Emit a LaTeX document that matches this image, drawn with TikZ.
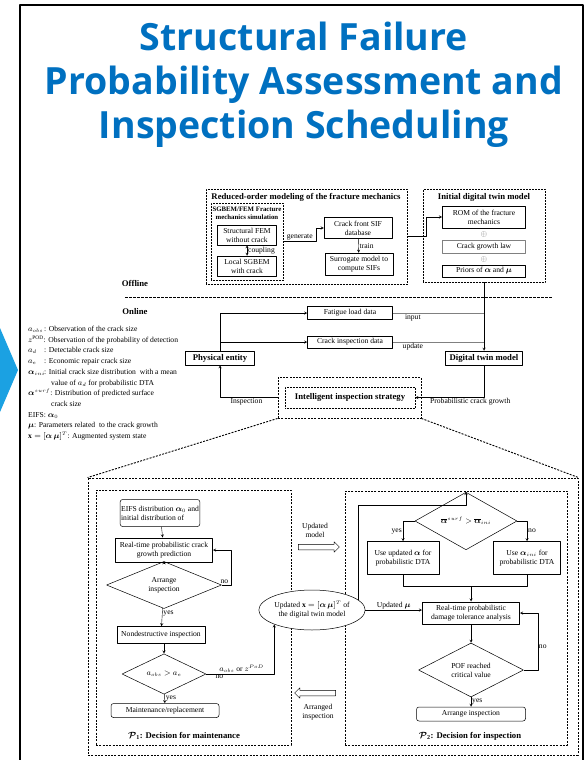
\documentclass[tikz,border=0pt]{standalone}
\usepackage{fontspec}
\usepackage{amsmath}
\setmainfont{Liberation Serif}
\newfontfamily\titlefont{Open Sans}
\usetikzlibrary{shapes.geometric,shapes.arrows,calc}
\definecolor{titleblue}{HTML}{0070C0}
\definecolor{chevblue}{HTML}{1BA1E2}
\newcommand{\sz}{\fontsize{7.6}{9.2}\selectfont}
\newcommand{\hd}{\fontsize{8.7}{10}\selectfont\bfseries}
\newcommand{\legfont}{\fontsize{7.6}{10.7}\selectfont}

\begin{document}
\begin{tikzpicture}[x=1pt,y=-1pt, line join=round, >=stealth, font=\sz,
    wh/.style 2 args={minimum width=#1pt,minimum height=#2pt},
    box/.style={draw, line width=0.5pt, align=center, inner sep=1pt},
    thickbox/.style={box, line width=1pt},
    rbox/.style={box, rounded corners=2.5pt},
    dec/.style={draw, diamond, line width=0.5pt, align=center, inner sep=0pt},
    dotbox/.style={draw, densely dotted, line width=0.5pt, inner sep=0pt},
    bigdash/.style={draw, dash pattern=on 2pt off 1.3pt, line width=0.9pt, inner sep=0pt},
    lbl/.style={inner sep=1pt},
    hollow/.style={draw, single arrow, single arrow head extend=2.5pt, inner sep=2.5pt, minimum height=41pt, line width=0.5pt}]
\useasboundingbox (0,0) rectangle (587,760);
\fill[chevblue] (0,328) -- (18,370) -- (0,412) -- cycle;
\draw[line width=1.6pt] (20,5) rectangle (583,800);
\node[font=\titlefont\bfseries\fontsize{37.5}{44}\selectfont, text=titleblue, align=center] (title) at (304,85)
  {Structural Failure\\Probability Assessment and\\Inspection Scheduling};

% offline part
\node[dotbox, wh={201}{95}] (reduced) at (306.5,236.5) {};
\node[font=\hd] (redtitle) at (306,197) {Reduced-order modeling of the fracture mechanics};
\node[dotbox, wh={72}{77}] (sgbem) at (247,241.5) {};
\node[font=\fontsize{6.8}{7.9}\selectfont\bfseries, align=center] (sgtitle) at (247,213.5) {SGBEM/FEM Fracture\\mechanics simulation};
\node[box, wh={59}{20}] (sfem) at (247,235) {Structural FEM\\without crack};
\node[box, wh={59}{20}] (lsg) at (247,266) {Local SGBEM\\with crack};
\node[box, wh={68}{21}] (sif) at (358,228) {Crack front SIF\\database};
\node[box, wh={68}{22}] (surr) at (359,264) {Surrogate model to\\compute SIFs};
\draw[<->] (sfem) -- (lsg) node[midway, right, lbl] {coupling};
\draw[->] (sgbem.east) -- ++(33,0) node[midway, above, lbl] {generate} |- (sif.west);
\draw[->] (sif) -- (surr) node[midway, right, lbl] {train};

\node[dotbox, wh={122}{93}] (init) at (484,235.5) {};
\node[font=\hd] (inittitle) at (484,197) {Initial digital twin model};
\node[thickbox, wh={83}{22}] (rom) at (484,217) {ROM of the fracture\\mechanics};
\node[text=gray, inner sep=0pt] (plusa) at (484,234) {$\oplus$};
\node[box, draw=gray, wh={83}{13}] (cgl) at (484,247) {Crack growth law};
\node[text=gray, inner sep=0pt] (plusb) at (484,259) {$\oplus$};
\node[thickbox, wh={83}{12}] (prior) at (484,271) {Priors of $\boldsymbol{\alpha}$ and $\boldsymbol{\mu}$};
\draw[->] (reduced.east) -- ++(19,0) |- (rom.west);

\node[font=\hd] (offline) at (135,283) {Offline};
\node[font=\hd] (online) at (135,312) {Online};
\draw[dash pattern=on 2.5pt off 1.5pt, line width=0.8pt] (125,297) -- (553,297); % offline / online

% online part
\node[box, font=\hd, wh={69}{14}] (phys) at (220,358) {Physical entity};
\node[box, font=\hd, wh={77}{14}] (dtm) at (484,358) {Digital twin model};
\node[box, wh={85}{13}] (fat) at (350,313) {Fatigue load data};
\node[box, wh={85}{12}] (crk) at (350,342) {Crack inspection data};
\draw[->] (init.south) -- (dtm.north);
\draw[->] (phys.north) |- (fat.west);
\draw[->] (phys.north) |- (crk.west);
\draw[gray] (fat.east) -- (fat.east -| dtm.north) node[pos=0.22, below, lbl, text=black] {input};
\draw[gray] (crk.east) -- (crk.east -| dtm.north) node[pos=0.22, below, lbl, text=black] {update};

\node[bigdash, wh={143}{41}] (iis) at (349.5,397.5) {};
\node[dotbox, wh={130}{21}, font=\hd] (iisin) at (350,397.5) {Intelligent inspection strategy};
\draw[->] (dtm.south) |- (iisin.east) node[pos=0.6, below, lbl] {Probabilistic crack growth};
\draw[->] (iis.west) -| (phys.south) node[pos=0.27, below, lbl] {Inspection};

\node[align=left, anchor=north west, font=\legfont, inner sep=0pt] (legend) at (28,326) {%
\makebox[16pt][l]{$a_{obs}$}: Observation of the crack size\\
$z^{\mathrm{POD}}$: Observation of the probability of detection\\
\makebox[16pt][l]{$a_d$}: Detectable crack size\\
\makebox[16pt][l]{$a_e$}: Economic repair crack size\\
\makebox[16pt][l]{$\boldsymbol{\alpha}_{ini}$}: Initial crack size distribution\ \ with a mean\\
\hspace*{23pt}value of $a_d$ for probabilistic DTA\\
$\boldsymbol{\alpha}^{surf}$: Distribution of predicted surface\\
\hspace*{23pt}crack size\\
EIFS: $\boldsymbol{\alpha}_0$\\
$\boldsymbol{\mu}$: Parameters related\ \ to the crack growth\\
$\mathbf{x}=[\boldsymbol{\alpha}\,\boldsymbol{\mu}]^T$: Augmented system state};

% decision part
\node[bigdash, wh={490}{277}] (big) at (333,616.5) {};
\draw[bigdash] (iis.south west) -- (big.north west);
\draw[bigdash] (iis.south east) -- (big.north east);
\node[bigdash, line width=0.7pt, wh={195}{255}] (pone) at (193.5,617.5) {};
\node[bigdash, line width=0.7pt, wh={222}{254}] (ptwo) at (456,618) {};

\node[rbox, align=left, wh={76}{27}] (eifs) at (160,513) {EIFS distribution $\boldsymbol{\alpha}_0$ and\\initial distribution of};
\node[thickbox, wh={97}{24}] (rtc) at (164,550) {Real-time probabilistic crack\\growth prediction};
\node[dec, wh={115}{43}] (arr) at (164,585) {Arrange\\inspection};
\node[box, wh={88}{17}] (nde) at (161,635) {Nondestructive inspection};
\node[dec, wh={84}{23}] (obs) at (164,674) {$a_{obs} > a_e$};
\node[rbox, wh={108}{14}] (maint) at (165,710.5) {Maintenance/replacement};
\node[font=\hd] (ponetitle) at (184,736) {$\boldsymbol{\mathcal{P}}_{\mathbf{1}}$: Decision for maintenance};
\draw[->] (eifs) -- (rtc);
\draw[->] (rtc) -- (arr);
\draw[->] (arr.east) -- ++(9,0) node[pos=0.3, above, lbl] {no} |- (rtc.east);
\draw[->] (arr) -- (nde) node[pos=0.3, right, lbl] {yes};
\draw[->] (nde.south -| obs.north) -- (obs.north);
\draw[->] (obs) -- (maint) node[pos=0.45, right, lbl] {yes};

\node[draw, ellipse, fill=white, line width=0.5pt, align=center, wh={106}{40}, inner sep=0pt] (ell) at (312,610)
  {Updated $\mathbf{x}=[\boldsymbol{\alpha}\,\boldsymbol{\mu}]^T$ of\\the digital twin model};
\draw[->] (obs.east) -| (ell.south west) node[pos=0.06, below right, lbl] {no} node[pos=0.26, above, lbl] {$a_{obs}$ or $z^{PoD}$};
\node[align=center] (updlbl) at (315,530) {Updated\\model};
\node[hollow] (updarrow) at (317.5,547) {};
\node[align=center] (arrlbl) at (318,712) {Arranged\\inspection};
\node[hollow, shape border rotate=180] (arrarrow) at (316.5,693) {};

\node[dec, wh={102}{22}] (sd) at (466,521) {$\overline{\boldsymbol{\alpha}}^{surf} > \overline{\boldsymbol{\alpha}}_{ini}$};
\node[box, wh={72}{33}] (usea) at (403,558) {Use updated $\boldsymbol{\alpha}$ for\\probabilistic DTA};
\node[box, wh={67}{33}] (useb) at (527,558) {Use $\boldsymbol{\alpha}_{ini}$ for\\probabilistic DTA};
\node[thickbox, wh={97}{22}] (dta) at (471,613) {Real-time probabilistic\\damage tolerance analysis};
\node[dec, wh={105}{44}] (pof) at (471,670) {POF reached\\critical value};
\node[rbox, wh={109}{14}] (ai) at (471,714) {Arrange inspection};
\node[font=\hd] (ptwotitle) at (470,736) {$\boldsymbol{\mathcal{P}}_{\mathbf{2}}$: Decision for inspection};
\draw[->] (ell.12) -- ++(0,-95) -| (sd.north);
\draw[->] (sd.west) -| (usea.north) node[pos=0.75, left, lbl] {yes};
\draw[->] (sd.east) -| (useb.north) node[pos=0.75, right, lbl] {no};
\coordinate (mrg) at ($(dta.north)+(0,-15)$);
\draw (usea.south) |- (mrg) -| (useb.south);
\draw[->] (mrg) -- (dta.north);
\draw[->] (ell.east) -- (ell.east -| dta.west) node[midway, above, lbl] {Updated $\boldsymbol{\mu}$};
\draw[->] (dta) -- (pof);
\draw[->] (pof.east) -- ++(14,0) |- (dta.east) node[pos=0.2, right, lbl] {no};
\draw[->] (pof) -- (ai) node[pos=0.4, right, lbl] {yes};
\end{tikzpicture}
\end{document}
